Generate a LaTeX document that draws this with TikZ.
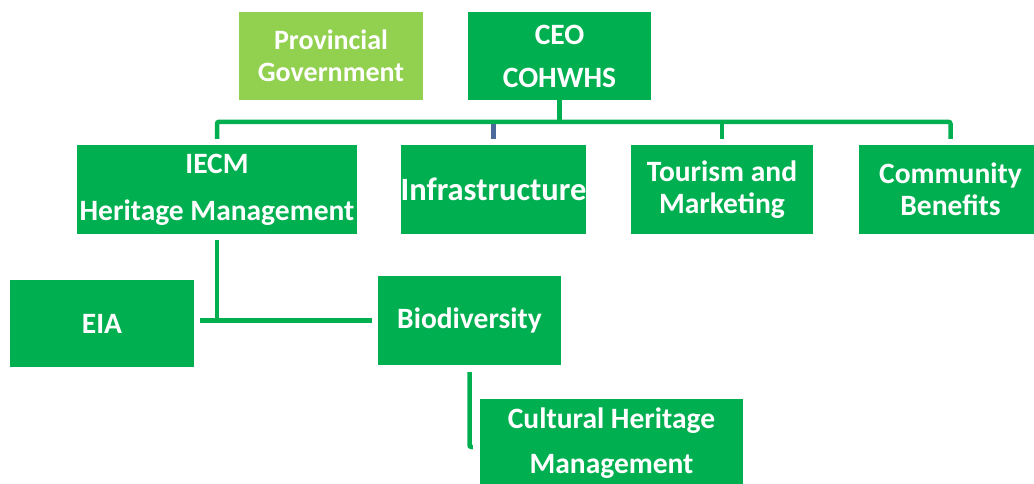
\documentclass[tikz,border=0pt]{standalone}
\usepackage{fontspec}
\setmainfont{Carlito}
\usepackage{xcolor}
\definecolor{UnitGreen}{HTML}{00B050}
\definecolor{GovGreen}{HTML}{92D050}
\definecolor{TickBlue}{HTML}{4A6A9C}

\tikzset{
  unit/.style={
    fill=UnitGreen,
    text=white,
    inner sep=0pt,
    minimum height=88pt,
    align=center,
    font=\fontsize{29.5}{32}\selectfont\bfseries
  },
  link/.style={draw=UnitGreen, line width=4.5pt, rounded corners=2pt},
}

\begin{document}
\begin{tikzpicture}[x=1pt, y=-1pt]
  \useasboundingbox (0,0) rectangle (1034,483);

  % top row
  \node[unit, fill=GovGreen, minimum width=184pt, font=\fontsize{28}{32}\selectfont\bfseries] (prov) at (331,56) {Provincial\\Government};
  \node[unit, minimum width=183pt] (ceo) at (559.5,56) {CEO\\[11pt]COHWHS};

  % departments
  \node[unit, minimum width=280pt, minimum height=89pt] (iecm) at (217,189.5) {IECM\\[15pt]Heritage Management};
  \node[unit, minimum width=183pt, minimum height=89pt, font=\fontsize{32.5}{36}\selectfont\bfseries] (infra) at (493.5,189.5) {Infrastructure};
  \node[unit, minimum width=182pt, minimum height=89pt] (tour) at (722,189.5) {Tourism and\\Marketing};
  \node[unit, minimum width=183pt, minimum height=89pt] (comm) at (950.5,189.5) {Community\\Benefits};

  % sub units
  \node[unit, minimum width=184pt, minimum height=87pt] (eia) at (102,323.5) {EIA};
  \node[unit, minimum width=183pt, minimum height=89pt] (bio) at (469.5,320.5) {Biodiversity};
  \node[unit, minimum width=263pt] (cult) at (611.5,443) {Cultural Heritage\\[13pt]Management};

  \coordinate (bus) at ([yshift=23pt]iecm.north);
  \coordinate (eiaend) at ([xshift=6pt]eia.east);

  % bus under the CEO
  \draw[link] (ceo.south) -- (ceo.south |- bus);
  \draw[link] ([yshift=6pt]iecm.north) |- ([yshift=23pt]comm.north) -- ([yshift=6pt]comm.north);
  \draw[link] ([yshift=6pt]tour.north) -- ([yshift=23pt]tour.north);
  \draw[draw=TickBlue, line width=4.5pt] ([yshift=6pt]infra.north) -- ([yshift=21pt]infra.north);

  % IECM branch
  \draw[link] ([yshift=-6pt]iecm.south) -- (iecm.south |- bio.west);
  \draw[link] (eiaend |- bio.west) -- ([xshift=-6pt]bio.west);
  \draw[link] ([yshift=-7pt]bio.south) |- ([xshift=-7pt,yshift=-4pt]cult.west);
\end{tikzpicture}
\end{document}
